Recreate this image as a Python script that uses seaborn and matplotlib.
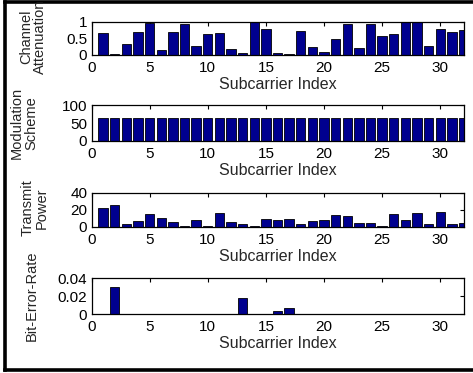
import numpy as np
import pandas as pd
import matplotlib
matplotlib.use("Agg")
import matplotlib.pyplot as plt
import seaborn as sns
from matplotlib.lines import Line2D
from matplotlib.ticker import FormatStrFormatter

sns.set_style("white")
plt.rcParams["font.family"] = ["Liberation Sans", "DejaVu Sans"]

# subcarrier indices 1..32
subcarrier = list(range(1, 33))

channel_attenuation = [0.65, 0.04, 0.32, 0.68, 0.95, 0.14, 0.68, 0.92, 0.27, 0.62,
                       0.65, 0.17, 0.07, 1.02, 0.78, 0.07, 0.04, 0.72, 0.24, 0.10,
                       0.48, 0.92, 0.20, 0.92, 0.57, 0.62, 1.02, 0.99, 0.27, 0.78,
                       0.68, 0.75]

modulation_scheme = [64] * 32

transmit_power = [22.8, 26.0, 3.2, 6.8, 15.2, 10.8, 5.6, 1.6, 8.0, 1.6,
                  16.4, 5.6, 3.2, 1.6, 9.2, 8.0, 9.2, 3.2, 6.8, 8.0,
                  13.6, 12.4, 4.4, 4.4, 1.2, 15.2, 8.0, 16.4, 3.2, 17.6,
                  3.2, 4.4]

bit_error_rate = [0.0, 0.0295, 0.0004, 0.0, 0.0, 0.0004, 0.0, 0.0004, 0.0004, 0.0004,
                  0.0, 0.0004, 0.018, 0.0005, 0.0005, 0.003, 0.0067, 0.0004, 0.0004, 0.0004,
                  0.0, 0.0, 0.0004, 0.0, 0.0004, 0.0, 0.0, 0.0, 0.0004, 0.0,
                  0.0004, 0.0]

ylabels = ["Channel\nAttenuation", "Modulation\nScheme", "Transmit\nPower", "Bit-Error-Rate"]
yticks = [[0, 0.5, 1], [0, 50, 100], [0, 20, 40], [0, 0.02, 0.04]]
series = [channel_attenuation, modulation_scheme, transmit_power, bit_error_rate]

W, H = 473, 373
fig = plt.figure(figsize=(W / 100, H / 100), dpi=100)

# axes boxes in pixels: (top, bottom)
boxes = [(21.7, 55), (105, 141), (193, 227), (278, 314)]
# y label centres in pixels: (x, y)
label_pos = [(33, 37), (24, 123), (35, 208), (32, 296)]
left, right = 91.5, 463.5

bar_color = "#00008F"

for i, vals in enumerate(series):
    top, bot = boxes[i]
    ax = fig.add_axes([left / W, 1 - bot / H, (right - left) / W, (bot - top) / H])
    df = pd.DataFrame({"idx": subcarrier, "val": vals})
    sns.barplot(data=df, x="idx", y="val", native_scale=True, width=0.8,
                color=bar_color, saturation=1, edgecolor="black", linewidth=0.6, ax=ax)
    ax.set_xlim(0, 32)
    ax.set_ylim(yticks[i][0], yticks[i][-1])
    ax.set_xticks([0, 5, 10, 15, 20, 25, 30])
    ax.set_yticks(yticks[i])
    ax.yaxis.set_major_formatter(FormatStrFormatter("%g"))
    ax.tick_params(direction="in", length=3, width=0.8, top=True, right=True,
                   labelsize=11, colors="black")
    ax.tick_params(axis="x", pad=4)
    ax.tick_params(axis="y", pad=3)
    for s in ax.spines.values():
        s.set_visible(True)
        s.set_color("black")
        s.set_linewidth(0.9)
    ax.set_xlabel("Subcarrier Index", fontsize=11.5, labelpad=2)
    ax.set_ylabel("")
    fig.text(label_pos[i][0] / W, 1 - label_pos[i][1] / H, ylabels[i], rotation=90,
             ha="center", va="center", fontsize=10.5, multialignment="center",
             linespacing=1.0)

# outer frame (open on the right, like the source figure)
fx = 5 / W
ft = 1 - 1.8 / H
fb = 3 / H
frame_kw = dict(transform=fig.transFigure, color="black", linewidth=2.6,
                solid_capstyle="projecting")
fig.add_artist(Line2D([fx, 1.05], [ft, ft], **frame_kw))
fig.add_artist(Line2D([fx, 1.05], [fb, fb], **frame_kw))
fig.add_artist(Line2D([fx, fx], [fb, ft], **frame_kw))

fig.savefig("out.png", dpi=100)
